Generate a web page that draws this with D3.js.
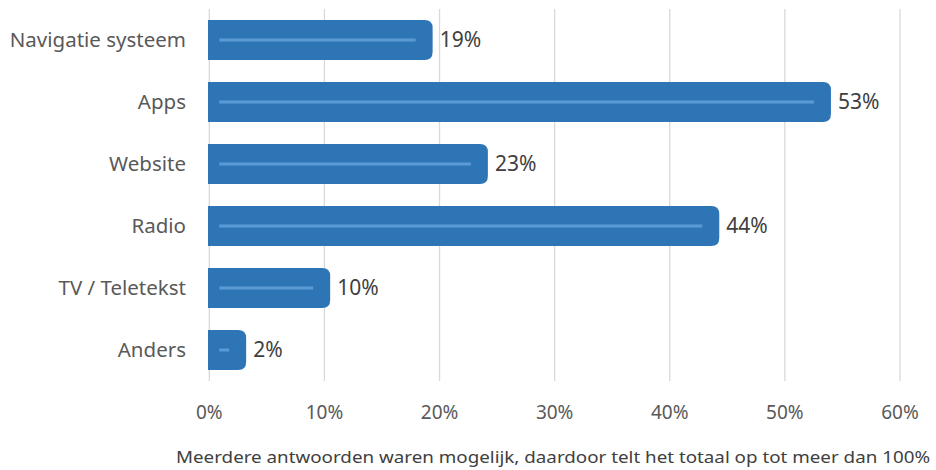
<!DOCTYPE html>
<html><head><meta charset="utf-8">
<script src="https://cdn.jsdelivr.net/npm/d3@7"></script>
<style>body{margin:0;background:#fff}svg{display:block}text{font-family:"Noto Sans",sans-serif}</style>
</head><body><svg id="c" width="936" height="470"></svg>
<script>
const categories = ["Navigatie systeem","Apps","Website","Radio","TV / Teletekst","Anders"];
const values = [19.4, 54.0, 24.2, 44.3, 10.5, 3.2];
const labels = ["19%","53%","23%","44%","10%","2%"];
const ticks = [0,10,20,30,40,50,60];
const footnote = "Meerdere antwoorden waren mogelijk, daardoor telt het totaal op tot meer dan 100%";

const svg = d3.select("#c");
const x = d3.scaleLinear().domain([0,60]).range([209.3,900]);
const y = d3.scaleBand().domain(categories).range([9,381]).paddingInner(0.355).paddingOuter(0.1775);

svg.append("g").selectAll("line").data(ticks).join("line")
  .attr("x1",d=>x(d)).attr("x2",d=>x(d)).attr("y1",9).attr("y2",381)
  .attr("stroke","#d9d9d9").attr("stroke-width",1.3);

const r = 8;
function barPath(v, cat){
  const x0 = x(0)-1.3, x1 = x(v), y0 = y(cat), y1 = y0 + y.bandwidth();
  const rr = Math.min(r, (x1-x0)/2);
  return `M${x0},${y0}H${x1-rr}Q${x1},${y0} ${x1},${y0+rr}V${y1-rr}Q${x1},${y1} ${x1-rr},${y1}H${x0}Z`;
}
const g = svg.append("g");
g.selectAll("path.bar").data(categories).join("path").attr("class","bar")
  .attr("d",(c,i)=>barPath(values[i],c)).attr("fill","#2e75b6");
g.selectAll("line.inner").data(categories).join("line").attr("class","inner")
  .attr("x1",x(0)+10).attr("x2",(c,i)=>Math.max(x(0)+16, x(values[i])-17))
  .attr("y1",c=>y(c)+y.bandwidth()/2).attr("y2",c=>y(c)+y.bandwidth()/2)
  .attr("stroke","#5b9bd5").attr("stroke-width",3);

g.selectAll("text.val").data(categories).join("text").attr("class","val")
  .attr("x",(c,i)=>x(values[i])+7).attr("y",c=>y(c)+y.bandwidth()/2).attr("dy","0.35em")
  .attr("font-size",21).attr("fill","#404040").text((c,i)=>labels[i]);

svg.append("g").selectAll("text").data(categories).join("text")
  .attr("x",186).attr("y",c=>y(c)+y.bandwidth()/2).attr("dy","0.35em")
  .attr("text-anchor","end").attr("font-size",20.5).attr("fill","#595959").text(c=>c);

svg.append("g").selectAll("text").data(ticks).join("text")
  .attr("x",d=>x(d)).attr("y",412).attr("dy","0.35em").attr("text-anchor","middle")
  .attr("font-size",19).attr("fill","#595959").text(d=>d+"%");

svg.append("text").attr("x",930).attr("y",457).attr("dy","0.35em").attr("text-anchor","end")
  .attr("font-size",17).attr("fill","#404040").attr("textLength",754).attr("lengthAdjust","spacingAndGlyphs")
  .text(footnote);
</script></body></html>
